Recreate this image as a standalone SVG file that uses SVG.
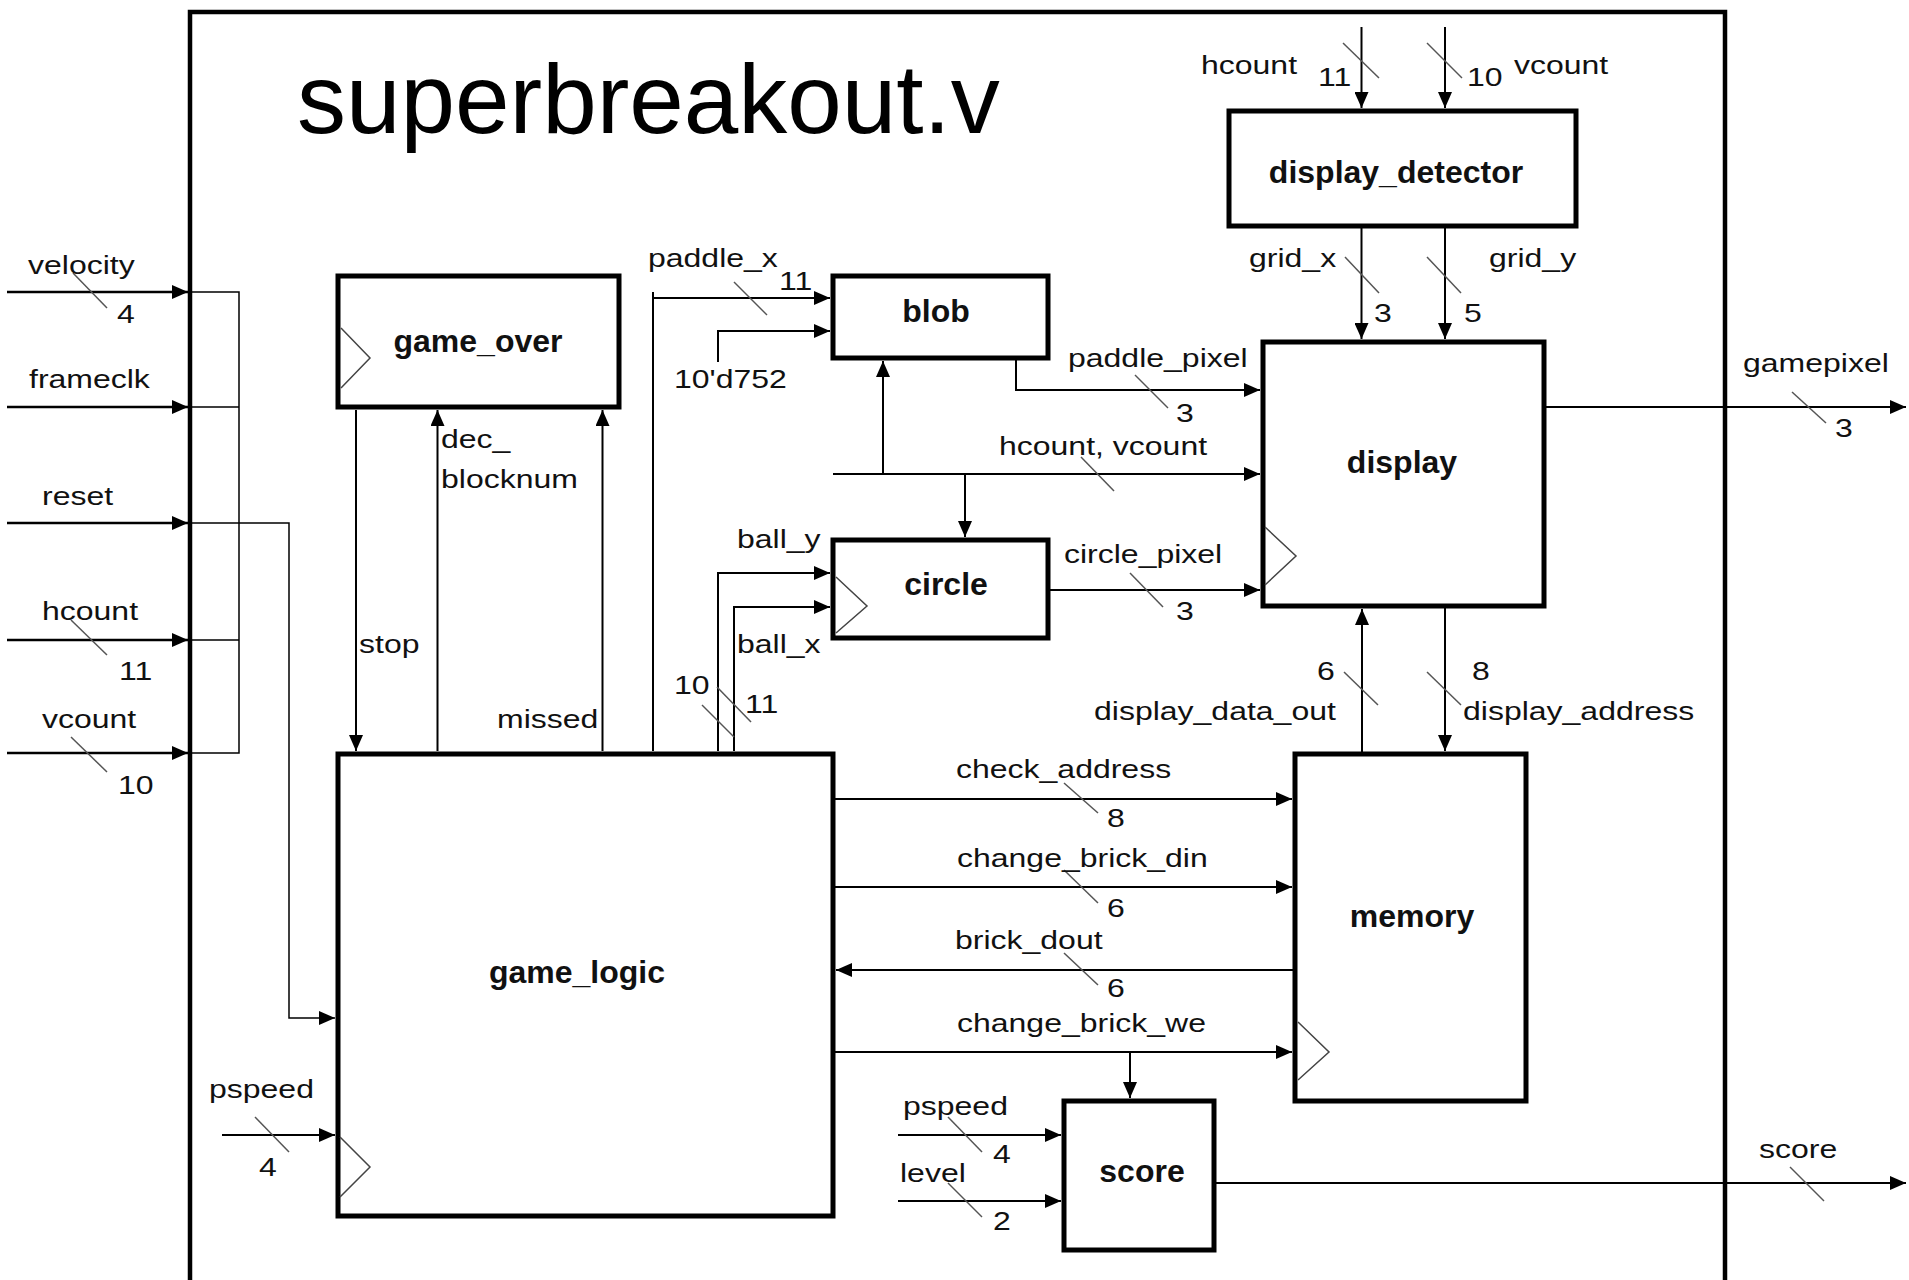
<svg xmlns="http://www.w3.org/2000/svg" width="1909" height="1280" viewBox="0 0 1909 1280">
<style>
.box{fill:#fff;stroke:#000;stroke-width:5}
.frame{fill:none;stroke:#000;stroke-width:4.5}
.clk{fill:none;stroke:#444;stroke-width:1.5}
.w{fill:none;stroke:#000;stroke-width:2}
.wt{fill:none;stroke:#000;stroke-width:2.5}
.thin{fill:none;stroke:#000;stroke-width:1.5}
.sl{stroke:#555;stroke-width:1.5}
.lb{font-family:"Liberation Sans",Arial,sans-serif;font-size:25px;fill:#111}
.bl{font-family:"Liberation Sans",Arial,sans-serif;font-size:32px;font-weight:bold;fill:#111;text-anchor:middle}
.title{font-family:"Liberation Sans",Arial,sans-serif;font-size:98px;fill:#000}
</style>
<defs>
<marker id="arr" markerUnits="userSpaceOnUse" markerWidth="17" markerHeight="14" refX="16" refY="7" orient="auto">
<path d="M0,0 L16,7 L0,14 z" fill="#000"/>
</marker>
</defs>
<rect width="1909" height="1280" fill="#fff"/>
<g id="superbreakout">
<path class="frame" d="M190,1290 V12 H1725 V1290"/>
<text class="title" x="297" y="133">superbreakout.v</text>
</g>
<g id="game_over">
<rect class="box" x="338" y="276" width="281" height="131"/>
<path class="clk" d="M341,328 L370,358 L341,388"/>
<text class="bl" x="478" y="352">game_over</text>
</g>
<g id="game_logic">
<rect class="box" x="338" y="754" width="495" height="462"/>
<path class="clk" d="M340,1137 L370,1167 L340,1197"/>
<text class="bl" x="577" y="983">game_logic</text>
</g>
<g id="blob">
<rect class="box" x="833" y="276" width="215" height="82"/>
<text class="bl" x="936" y="322">blob</text>
</g>
<g id="circle">
<rect class="box" x="833" y="540" width="215" height="98"/>
<path class="clk" d="M836,577 L867,606 L836,633"/>
<text class="bl" x="946" y="595">circle</text>
</g>
<g id="display_detector">
<rect class="box" x="1229" y="111" width="347" height="115"/>
<text class="bl" x="1396" y="183">display_detector</text>
</g>
<g id="display">
<rect class="box" x="1263" y="342" width="281" height="264"/>
<path class="clk" d="M1265,527 L1296,556 L1265,585"/>
<text class="bl" x="1402" y="473">display</text>
</g>
<g id="memory">
<rect class="box" x="1295" y="754" width="231" height="347"/>
<path class="clk" d="M1298,1022 L1329,1052 L1298,1080"/>
<text class="bl" x="1412" y="927">memory</text>
</g>
<g id="score">
<rect class="box" x="1064" y="1101" width="150" height="149"/>
<text class="bl" x="1142" y="1182">score</text>
</g>
<g id="connectors">
<path class="wt" d="M7,292 H188" marker-end="url(#arr)"/>
<path class="wt" d="M7,407 H188" marker-end="url(#arr)"/>
<path class="wt" d="M7,523 H188" marker-end="url(#arr)"/>
<path class="wt" d="M7,640 H188" marker-end="url(#arr)"/>
<path class="wt" d="M7,753 H188" marker-end="url(#arr)"/>
<path class="thin" d="M190,292 H239 V753 H190 M190,407 H239 M190,640 H239"/>
<path class="thin" d="M190,523 H289 V1018 H335" marker-end="url(#arr)"/>
<path class="w" d="M222,1135 H335" marker-end="url(#arr)"/>
<path class="w" d="M356,410 V751" marker-end="url(#arr)"/>
<path class="w" d="M437.5,751 V410" marker-end="url(#arr)"/>
<path class="w" d="M602.5,751 V410" marker-end="url(#arr)"/>
<path class="w" d="M653,751 V292 M653,298 H830" marker-end="url(#arr)"/>
<path class="w" d="M718,362 V331 H830" marker-end="url(#arr)"/>
<path class="w" d="M883,474 V361" marker-end="url(#arr)"/>
<path class="w" d="M833,474 H1260" marker-end="url(#arr)"/>
<path class="w" d="M965,474 V537" marker-end="url(#arr)"/>
<path class="w" d="M1016,358 V390 H1260" marker-end="url(#arr)"/>
<path class="w" d="M1048,590 H1260" marker-end="url(#arr)"/>
<path class="w" d="M718,751 V573 H830" marker-end="url(#arr)"/>
<path class="w" d="M734,751 V607 H830" marker-end="url(#arr)"/>
<path class="w" d="M1361.5,27 V108" marker-end="url(#arr)"/>
<path class="w" d="M1445,27 V108" marker-end="url(#arr)"/>
<path class="w" d="M1361.5,227 V339" marker-end="url(#arr)"/>
<path class="w" d="M1445,227 V339" marker-end="url(#arr)"/>
<path class="w" d="M1544,407 H1906" marker-end="url(#arr)"/>
<path class="w" d="M1362,753 V609" marker-end="url(#arr)"/>
<path class="w" d="M1445,607 V751" marker-end="url(#arr)"/>
<path class="w" d="M833,799 H1292" marker-end="url(#arr)"/>
<path class="w" d="M833,887 H1292" marker-end="url(#arr)"/>
<path class="w" d="M1295,970 H836" marker-end="url(#arr)"/>
<path class="w" d="M833,1052 H1292" marker-end="url(#arr)"/>
<path class="w" d="M1130,1052 V1098" marker-end="url(#arr)"/>
<path class="w" d="M898,1135 H1061" marker-end="url(#arr)"/>
<path class="w" d="M898,1201 H1061" marker-end="url(#arr)"/>
<path class="w" d="M1214,1183 H1906" marker-end="url(#arr)"/>
<g class="sl">
<line x1="73" y1="273" x2="107" y2="308"/>
<line x1="71" y1="620" x2="107" y2="655"/>
<line x1="71" y1="737" x2="107" y2="772"/>
<line x1="255" y1="1117" x2="289" y2="1152"/>
<line x1="734" y1="282" x2="767" y2="315"/>
<line x1="1081" y1="457" x2="1114" y2="491"/>
<line x1="1135" y1="375" x2="1168" y2="408"/>
<line x1="1130" y1="573" x2="1163" y2="607"/>
<line x1="702" y1="705" x2="734" y2="737"/>
<line x1="717" y1="687" x2="751" y2="722"/>
<line x1="1343" y1="43" x2="1379" y2="78"/>
<line x1="1427" y1="43" x2="1462" y2="78"/>
<line x1="1345" y1="257" x2="1379" y2="293"/>
<line x1="1427" y1="257" x2="1461" y2="293"/>
<line x1="1792" y1="392" x2="1826" y2="423"/>
<line x1="1344" y1="672" x2="1378" y2="705"/>
<line x1="1427" y1="672" x2="1461" y2="705"/>
<line x1="1064" y1="783" x2="1098" y2="813"/>
<line x1="1064" y1="870" x2="1098" y2="903"/>
<line x1="1064" y1="953" x2="1098" y2="985"/>
<line x1="948" y1="1117" x2="982" y2="1152"/>
<line x1="948" y1="1183" x2="982" y2="1217"/>
<line x1="1790" y1="1167" x2="1824" y2="1201"/>
</g>
</g>
<g id="labels">
<text class="lb" transform="translate(28,274) scale(1.28,1)">velocity</text>
<text class="lb" transform="translate(117,323) scale(1.28,1)">4</text>
<text class="lb" transform="translate(29,388) scale(1.28,1)">frameclk</text>
<text class="lb" transform="translate(42,505) scale(1.28,1)">reset</text>
<text class="lb" transform="translate(42,620) scale(1.28,1)">hcount</text>
<text class="lb" transform="translate(119,680) scale(1.28,1)">11</text>
<text class="lb" transform="translate(42,728) scale(1.28,1)">vcount</text>
<text class="lb" transform="translate(118,794) scale(1.28,1)">10</text>
<text class="lb" transform="translate(359,653) scale(1.28,1)">stop</text>
<text class="lb" transform="translate(441,448) scale(1.28,1)">dec_</text>
<text class="lb" transform="translate(441,488) scale(1.28,1)">blocknum</text>
<text class="lb" transform="translate(497,728) scale(1.28,1)">missed</text>
<text class="lb" transform="translate(209,1098) scale(1.28,1)">pspeed</text>
<text class="lb" transform="translate(259,1176) scale(1.28,1)">4</text>
<text class="lb" transform="translate(648,267) scale(1.28,1)">paddle_x</text>
<text class="lb" transform="translate(779,290) scale(1.28,1)">11</text>
<text class="lb" transform="translate(674,388) scale(1.28,1)">10'd752</text>
<text class="lb" transform="translate(1068,367) scale(1.28,1)">paddle_pixel</text>
<text class="lb" transform="translate(1176,422) scale(1.28,1)">3</text>
<text class="lb" transform="translate(999,455) scale(1.28,1)">hcount, vcount</text>
<text class="lb" transform="translate(737,548) scale(1.28,1)">ball_y</text>
<text class="lb" transform="translate(737,653) scale(1.28,1)">ball_x</text>
<text class="lb" transform="translate(674,694) scale(1.28,1)">10</text>
<text class="lb" transform="translate(745,713) scale(1.28,1)">11</text>
<text class="lb" transform="translate(1064,563) scale(1.28,1)">circle_pixel</text>
<text class="lb" transform="translate(1176,620) scale(1.28,1)">3</text>
<text class="lb" transform="translate(1201,74) scale(1.28,1)">hcount</text>
<text class="lb" transform="translate(1318,86) scale(1.28,1)">11</text>
<text class="lb" transform="translate(1467,86) scale(1.28,1)">10</text>
<text class="lb" transform="translate(1514,74) scale(1.28,1)">vcount</text>
<text class="lb" transform="translate(1249,267) scale(1.28,1)">grid_x</text>
<text class="lb" transform="translate(1489,267) scale(1.28,1)">grid_y</text>
<text class="lb" transform="translate(1374,322) scale(1.28,1)">3</text>
<text class="lb" transform="translate(1464,322) scale(1.28,1)">5</text>
<text class="lb" transform="translate(1743,372) scale(1.28,1)">gamepixel</text>
<text class="lb" transform="translate(1835,437) scale(1.28,1)">3</text>
<text class="lb" transform="translate(1317,680) scale(1.28,1)">6</text>
<text class="lb" transform="translate(1094,720) scale(1.28,1)">display_data_out</text>
<text class="lb" transform="translate(1472,680) scale(1.28,1)">8</text>
<text class="lb" transform="translate(1463,720) scale(1.28,1)">display_address</text>
<text class="lb" transform="translate(956,778) scale(1.28,1)">check_address</text>
<text class="lb" transform="translate(1107,827) scale(1.28,1)">8</text>
<text class="lb" transform="translate(957,867) scale(1.28,1)">change_brick_din</text>
<text class="lb" transform="translate(1107,917) scale(1.28,1)">6</text>
<text class="lb" transform="translate(955,949) scale(1.28,1)">brick_dout</text>
<text class="lb" transform="translate(1107,997) scale(1.28,1)">6</text>
<text class="lb" transform="translate(957,1032) scale(1.28,1)">change_brick_we</text>
<text class="lb" transform="translate(903,1115) scale(1.28,1)">pspeed</text>
<text class="lb" transform="translate(993,1163) scale(1.28,1)">4</text>
<text class="lb" transform="translate(900,1182) scale(1.28,1)">level</text>
<text class="lb" transform="translate(993,1230) scale(1.28,1)">2</text>
<text class="lb" transform="translate(1759,1158) scale(1.28,1)">score</text>
</g>
</svg>
